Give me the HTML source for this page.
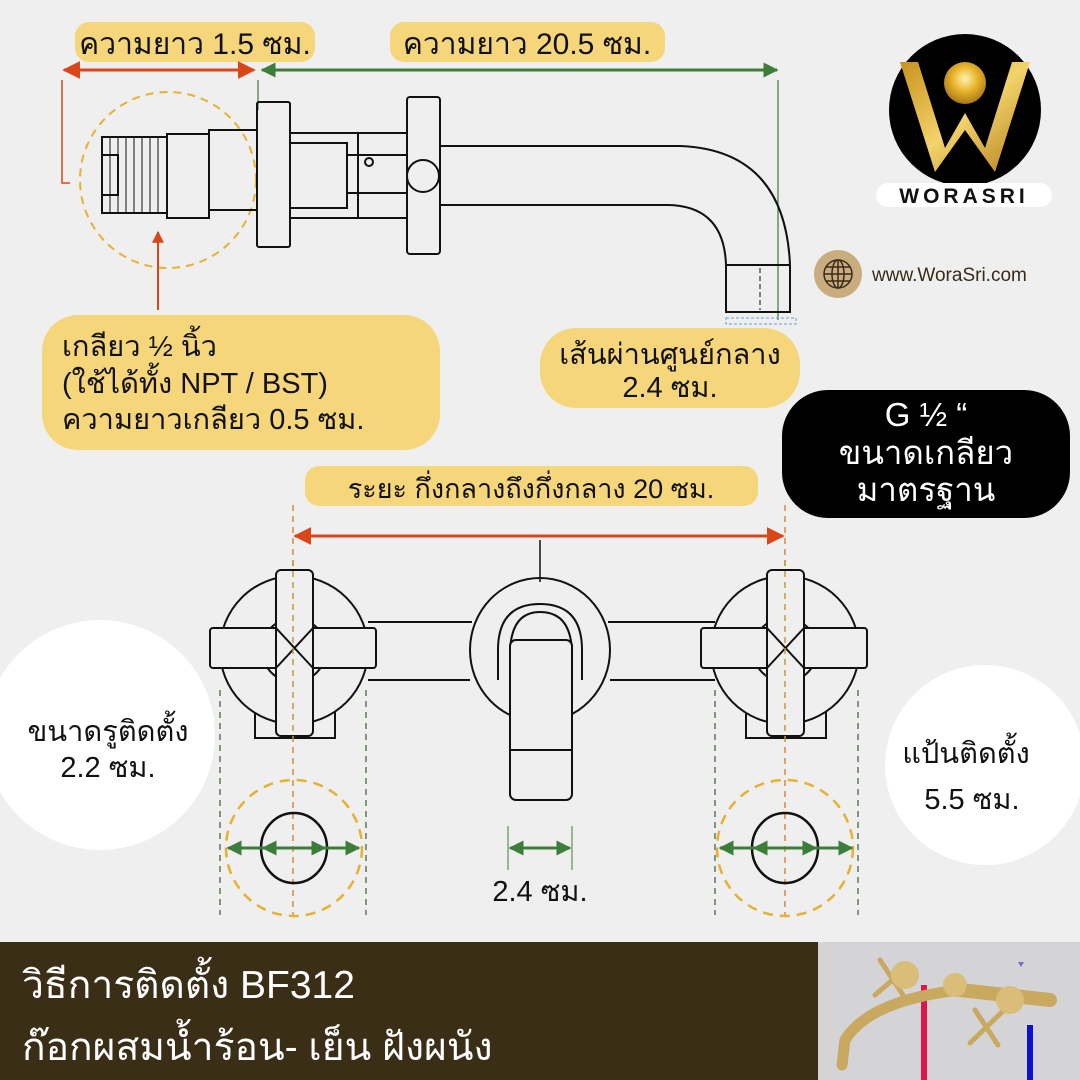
<!DOCTYPE html>
<html><head><meta charset="utf-8"><style>
html,body{margin:0;padding:0;background:#efefef;}
svg{display:block;}
text{font-family:"Liberation Sans","Noto Sans CJK SC",sans-serif;}
</style></head><body>
<svg width="1080" height="1080" viewBox="0 0 1080 1080" xmlns="http://www.w3.org/2000/svg">
<defs>
<marker id="ar" viewBox="0 0 10 10" refX="9" refY="5" markerWidth="6" markerHeight="6" orient="auto-start-reverse"><path d="M0,0L10,5L0,10z" fill="#d9461a"/></marker>
<marker id="ag" viewBox="0 0 10 10" refX="9" refY="5" markerWidth="5" markerHeight="5" orient="auto-start-reverse"><path d="M0,0L10,5L0,10z" fill="#3c7d3a"/></marker>
<radialGradient id="gold" cx="0.5" cy="0.4" r="0.6"><stop offset="0" stop-color="#fff3b0"/><stop offset="0.5" stop-color="#e8b42a"/><stop offset="1" stop-color="#a8781a"/></radialGradient>
<linearGradient id="gw" x1="0" y1="0" x2="1" y2="1"><stop offset="0" stop-color="#c8921e"/><stop offset="0.5" stop-color="#f3d36a"/><stop offset="1" stop-color="#b07c18"/></linearGradient>
</defs>
<rect width="1080" height="1080" fill="#efefef"/>

<rect x="75" y="22" width="240" height="40" rx="14" fill="#f5d67b"/>
<text x="195" y="54" font-size="30" text-anchor="middle" fill="#111">ความยาว 1.5 ซม.</text>
<rect x="390" y="22" width="275" height="40" rx="14" fill="#f5d67b"/>
<text x="527" y="54" font-size="30" text-anchor="middle" fill="#111">ความยาว 20.5 ซม.</text>
<line x1="64" y1="70" x2="254" y2="70" stroke="#d9461a" stroke-width="3" marker-start="url(#ar)" marker-end="url(#ar)"/>
<line x1="262" y1="70" x2="777" y2="70" stroke="#3c7d3a" stroke-width="3" marker-start="url(#ag)" marker-end="url(#ag)"/>
<polyline points="62,80 62,183 70,183" fill="none" stroke="#d9461a" stroke-width="1.5"/>
<line x1="258" y1="80" x2="258" y2="110" stroke="#3c7d3a" stroke-width="1.2"/>
<line x1="778" y1="80" x2="778" y2="320" stroke="#3c7d3a" stroke-width="1.2"/>

<circle cx="168" cy="180" r="88" fill="none" stroke="#e8b030" stroke-width="2" stroke-dasharray="8,6"/>
<g fill="none" stroke="#111" stroke-width="2">
<rect x="102" y="137" width="65" height="76"/>
<rect x="102" y="155" width="16" height="40"/>
<g stroke-width="1">
<line x1="110" y1="137" x2="110" y2="213"/><line x1="118" y1="137" x2="118" y2="213"/><line x1="126" y1="137" x2="126" y2="213"/><line x1="134" y1="137" x2="134" y2="213"/><line x1="142" y1="137" x2="142" y2="213"/><line x1="150" y1="137" x2="150" y2="213"/><line x1="158" y1="137" x2="158" y2="213"/>
</g>
<rect x="167" y="134" width="42" height="84"/>
<rect x="209" y="130" width="48" height="80"/>
<rect x="257" y="102" width="33" height="145" rx="2"/>
<rect x="290" y="133" width="117" height="85"/>
<rect x="290" y="143" width="57" height="65"/>
<line x1="358" y1="133" x2="358" y2="218"/>
<line x1="347" y1="155" x2="407" y2="155"/><line x1="347" y1="193" x2="407" y2="193"/>
<circle cx="369" cy="162" r="4"/>
<rect x="407" y="97" width="33" height="157" rx="3"/>
<circle cx="423" cy="176" r="16"/>
<path d="M440,146 L680,146 Q785,150 790,265 L790,312 L726,312 L726,265 Q724,206 668,205 L440,205"/>
<line x1="726" y1="265" x2="790" y2="265"/>
<line x1="760" y1="268" x2="760" y2="310" stroke-dasharray="5,3" stroke-width="1"/>
</g>
<rect x="726" y="318" width="70" height="6" fill="none" stroke="#6a9fd8" stroke-width="1" stroke-dasharray="3,2"/>

<line x1="158" y1="310" x2="158" y2="232" stroke="#d9461a" stroke-width="2" marker-end="url(#ar)"/>
<rect x="42" y="315" width="398" height="135" rx="36" fill="#f5d67b"/>
<text x="62" y="356" font-size="29" fill="#111">เกลียว ½ นิ้ว</text>
<text x="62" y="393" font-size="29" fill="#111">(ใช้ได้ทั้ง NPT / BST)</text>
<text x="62" y="429" font-size="29" fill="#111">ความยาวเกลียว 0.5 ซม.</text>

<rect x="540" y="328" width="260" height="80" rx="36" fill="#f5d67b"/>
<text x="670" y="364" font-size="29" text-anchor="middle" fill="#111">เส้นผ่านศูนย์กลาง</text>
<text x="670" y="397" font-size="29" text-anchor="middle" fill="#111">2.4 ซม.</text>

<rect x="782" y="390" width="288" height="128" rx="46" fill="#000"/>
<text x="926" y="426" font-size="33" text-anchor="middle" fill="#fff">G ½ “</text>
<text x="926" y="464" font-size="33" text-anchor="middle" fill="#fff">ขนาดเกลียว</text>
<text x="926" y="501" font-size="33" text-anchor="middle" fill="#fff">มาตรฐาน</text>

<circle cx="965" cy="110" r="76" fill="#000"/>
<path d="M900,62 L918,62 L945,148 L965,113 L985,148 L1012,62 L1030,62 L995,172 L965,130 L935,172 Z" fill="url(#gw)"/>
<circle cx="965" cy="83" r="21" fill="url(#gold)"/>
<rect x="876" y="183" width="176" height="24" rx="12" fill="#fff"/>
<text x="964" y="203" font-size="21" font-weight="bold" text-anchor="middle" letter-spacing="4" fill="#111">WORASRI</text>

<circle cx="838" cy="274" r="24" fill="#c9ad7e"/>
<g fill="none" stroke="#3a2a1a" stroke-width="1.5">
<circle cx="838" cy="274" r="14"/><ellipse cx="838" cy="274" rx="6" ry="14"/><line x1="824" y1="274" x2="852" y2="274"/><line x1="826" y1="267" x2="850" y2="267"/><line x1="826" y1="281" x2="850" y2="281"/><line x1="838" y1="260" x2="838" y2="288"/>
</g>
<text x="872" y="281" font-size="19" fill="#3a2a1a">www.WoraSri.com</text>

<rect x="305" y="466" width="453" height="40" rx="14" fill="#f5d67b"/>
<text x="531" y="498" font-size="27" text-anchor="middle" fill="#111">ระยะ กึ่งกลางถึงกึ่งกลาง 20 ซม.</text>
<line x1="295" y1="536" x2="783" y2="536" stroke="#d9461a" stroke-width="3" marker-start="url(#ar)" marker-end="url(#ar)"/>
<line x1="293" y1="505" x2="293" y2="915" stroke="#d98a3a" stroke-width="1.5" stroke-dasharray="6,5"/>
<line x1="785" y1="505" x2="785" y2="915" stroke="#d98a3a" stroke-width="1.5" stroke-dasharray="6,5"/>
<line x1="540" y1="540" x2="540" y2="582" stroke="#111" stroke-width="1.5"/>

<g fill="none" stroke="#111" stroke-width="2">
<line x1="368" y1="622" x2="472" y2="622"/><line x1="368" y1="680" x2="470" y2="680"/>
<line x1="608" y1="622" x2="715" y2="622"/><line x1="610" y1="680" x2="715" y2="680"/>
<ellipse cx="540" cy="650" rx="70" ry="72"/>
<path d="M510,720 L510,655 Q510,612 540,612 Q572,612 572,655 L572,720"/>
<path d="M498,680 L498,650 Q498,604 540,604 Q582,604 582,650 L582,680"/>
<rect x="510" y="640" width="62" height="160" rx="6" fill="#efefef"/>
<line x1="510" y1="750" x2="572" y2="750"/>
</g>
<g id="h" fill="none" stroke="#111" stroke-width="2">
<rect x="255" y="695" width="80" height="43" fill="#efefef"/>
<circle cx="294" cy="650" r="74" fill="#efefef"/>
<circle cx="294" cy="650" r="32"/>
<rect x="210" y="628" width="166" height="40" rx="3" fill="#efefef"/>
<rect x="276" y="570" width="37" height="166" rx="5" fill="#efefef"/>
<path d="M276,628 L313,668 M313,628 L276,668"/>
</g>
<use href="#h" x="491"/>
<line x1="293" y1="560" x2="293" y2="740" stroke="#c49a3a" stroke-width="1.5" stroke-dasharray="6,5"/>
<line x1="785" y1="560" x2="785" y2="740" stroke="#c49a3a" stroke-width="1.5" stroke-dasharray="6,5"/>

<g stroke="#5a7a50" stroke-width="1.5" stroke-dasharray="6,5">
<line x1="220" y1="690" x2="220" y2="915"/><line x1="366" y1="690" x2="366" y2="915"/>
<line x1="715" y1="690" x2="715" y2="915"/><line x1="858" y1="690" x2="858" y2="915"/>
</g>
<circle cx="294" cy="848" r="68" fill="none" stroke="#e8b030" stroke-width="2.5" stroke-dasharray="10,7"/>
<circle cx="785" cy="848" r="68" fill="none" stroke="#e8b030" stroke-width="2.5" stroke-dasharray="10,7"/>
<ellipse cx="294" cy="848" rx="33" ry="35" fill="none" stroke="#111" stroke-width="2.5"/>
<ellipse cx="785" cy="848" rx="33" ry="35" fill="none" stroke="#111" stroke-width="2.5"/>
<g stroke="#3c7d3a" stroke-width="3">
<line x1="228" y1="848" x2="359" y2="848" marker-start="url(#ag)" marker-end="url(#ag)"/>
<line x1="263" y1="848" x2="325" y2="848" marker-start="url(#ag)" marker-end="url(#ag)"/>
<line x1="720" y1="848" x2="852" y2="848" marker-start="url(#ag)" marker-end="url(#ag)"/>
<line x1="754" y1="848" x2="816" y2="848" marker-start="url(#ag)" marker-end="url(#ag)"/>
<line x1="510" y1="848" x2="570" y2="848" marker-start="url(#ag)" marker-end="url(#ag)"/>
</g>
<line x1="508" y1="826" x2="508" y2="870" stroke="#3c7d3a" stroke-width="1"/>
<line x1="572" y1="826" x2="572" y2="870" stroke="#3c7d3a" stroke-width="1"/>
<text x="540" y="901" font-size="29" text-anchor="middle" fill="#111">2.4 ซม.</text>

<circle cx="100" cy="735" r="115" fill="#fff"/>
<text x="108" y="741" font-size="29" text-anchor="middle" fill="#111">ขนาดรูติดตั้ง</text>
<text x="108" y="777" font-size="29" text-anchor="middle" fill="#111">2.2 ซม.</text>
<circle cx="985" cy="765" r="100" fill="#fff"/>
<text x="966" y="763" font-size="29" text-anchor="middle" fill="#111">แป้นติดตั้ง</text>
<text x="972" y="809" font-size="29" text-anchor="middle" fill="#111">5.5 ซม.</text>

<rect x="0" y="942" width="818" height="138" fill="#3b2e17"/>
<text x="22" y="998" font-size="39" fill="#fff">วิธีการติดตั้ง BF312</text>
<text x="22" y="1060" font-size="39" fill="#fff">ก๊อกผสมน้ำร้อน- เย็น ฝังผนัง</text>

<rect x="818" y="942" width="262" height="138" fill="#d4d4d6"/>
<line x1="924" y1="985" x2="924" y2="1080" stroke="#e0174a" stroke-width="6"/>
<line x1="1030" y1="1025" x2="1030" y2="1080" stroke="#1010d0" stroke-width="6"/>
<path d="M1018,962 l6,0 l-3,5z" fill="#7a6ad0"/>
<g stroke="#c9a860" stroke-linecap="round" fill="none">
<path d="M960,990 L1050,1000" stroke-width="14"/>
<path d="M960,990 Q870,1000 845,1040 L842,1065" stroke-width="11"/>
<path d="M880,960 L905,998 M875,995 L910,965" stroke-width="5"/>
<path d="M975,1010 L998,1045 M970,1043 L1002,1012" stroke-width="5"/>
</g>
<circle cx="905" cy="975" r="14" fill="#d9bd78"/>
<circle cx="1010" cy="1000" r="14" fill="#d9bd78"/>
<circle cx="955" cy="985" r="12" fill="#d9bd78"/>
</svg>
</body></html>
